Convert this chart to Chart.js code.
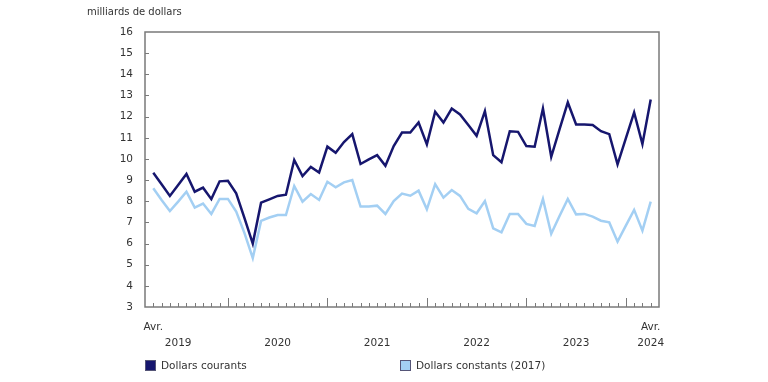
<!DOCTYPE html>
<html><head><meta charset="utf-8">
<script src="https://cdn.jsdelivr.net/npm/chart.js@4/dist/chart.umd.min.js"></script>
<style>html,body{margin:0;padding:0;background:#fff}#wrap{width:768px;height:382px;position:relative}</style>
</head><body><div id="wrap"><canvas id="c" width="768" height="382"></canvas></div>
<script>
const months = [
 '2019-04','2019-05','2019-06','2019-07','2019-08','2019-09','2019-10','2019-11','2019-12',
 '2020-01','2020-02','2020-03','2020-04','2020-05','2020-06','2020-07','2020-08','2020-09','2020-10','2020-11','2020-12',
 '2021-01','2021-02','2021-03','2021-04','2021-05','2021-06','2021-07','2021-08','2021-09','2021-10','2021-11','2021-12',
 '2022-01','2022-02','2022-03','2022-04','2022-05','2022-06','2022-07','2022-08','2022-09','2022-10','2022-11','2022-12',
 '2023-01','2023-02','2023-03','2023-04','2023-05','2023-06','2023-07','2023-08','2023-09','2023-10','2023-11','2023-12',
 '2024-01','2024-02','2024-03','2024-04'
];
const courants = [
 9.35,8.8,8.25,8.77,9.29,8.45,8.64,8.1,8.94,
 8.97,8.37,7.2,6.0,7.93,8.09,8.25,8.31,9.95,9.19,9.62,9.36,
 10.58,10.29,10.8,11.17,9.76,9.98,10.18,9.68,10.61,11.25,11.25,11.72,
 10.69,12.23,11.72,12.38,12.1,11.6,11.09,12.26,10.18,9.84,11.31,11.28,
 10.61,10.58,12.38,10.1,11.4,12.67,11.63,11.63,11.6,11.31,11.17,9.74,
 10.97,12.2,10.7,12.81
];
const constants = [
 8.61,8.06,7.54,7.98,8.45,7.70,7.89,7.40,8.11,
 8.11,7.51,6.49,5.31,7.07,7.23,7.35,7.35,8.72,7.98,8.34,8.06,
 8.92,8.66,8.89,9.0,7.75,7.75,7.79,7.4,8.01,8.36,8.26,8.5,
 7.62,8.81,8.17,8.53,8.25,7.64,7.43,8.01,6.72,6.53,7.4,7.4,
 6.93,6.83,8.11,6.46,7.3,8.11,7.38,7.4,7.27,7.08,7.0,6.09,
 6.85,7.59,6.61,7.98
];
const xLabelIdx = [0,3,15,27,39,51,60];
const xLabelTop = ['Avr.','','','','','','Avr.'];
const xLabelBottom = ['','2019','2020','2021','2022','2023','2024'];
const seriesNames = ['Dollars courants','Dollars constants (2017)'];
const unitLabel = 'milliards de dollars';
const yMin = 3, yMax = 16;

const FONT = '"DejaVu Sans", Verdana, sans-serif';
const TXT = '#333333';
const AXIS = '#7a7a7a';
const DARK = '#16166e';
const LIGHT = '#a3cff3';

const decor = {
  id: 'decor',
  beforeDatasetsDraw(chart) {
    const {ctx, chartArea: a, scales: {x, y}} = chart;
    ctx.save();
    ctx.strokeStyle = AXIS;
    ctx.lineWidth = 1.5;
    ctx.strokeRect(a.left, a.top, a.right - a.left, a.bottom - a.top);
    ctx.lineWidth = 1;
    ctx.beginPath();
    months.forEach((m, i) => {
      const px = Math.round(x.getPixelForValue(i)) + 0.5;
      const len = m.endsWith('-01') ? 9 : 4;
      ctx.moveTo(px, a.bottom);
      ctx.lineTo(px, a.bottom - len);
    });
    for (let v = yMin + 1; v < yMax; v++) {
      const py = Math.round(y.getPixelForValue(v)) + 0.5;
      ctx.moveTo(a.left, py);
      ctx.lineTo(a.left + 4, py);
    }
    ctx.stroke();
    ctx.restore();
  },
  afterDraw(chart) {
    const {ctx} = chart;
    ctx.save();
    ctx.fillStyle = TXT;
    ctx.textBaseline = 'middle';
    ctx.font = '10px ' + FONT;
    ctx.fillText(unitLabel, 87, 12);
    const legendX = [145, 400];
    chart.data.datasets.forEach((ds, i) => {
      const lx = legendX[i];
      ctx.fillStyle = ds.borderColor;
      ctx.fillRect(lx, 360, 11, 11);
      ctx.strokeStyle = '#555577';
      ctx.lineWidth = 1;
      ctx.strokeRect(lx + 0.5, 360.5, 10, 10);
      ctx.fillStyle = TXT;
      ctx.font = '10.5px ' + FONT;
      ctx.fillText(ds.label, lx + 16, 366);
    });
    ctx.restore();
  }
};

new Chart(document.getElementById('c'), {
  type: 'line',
  data: {
    datasets: [
      {label: seriesNames[0], data: courants.map((v, i) => ({x: i, y: v})), borderColor: DARK, backgroundColor: DARK, borderWidth: 2.5, pointRadius: 0, tension: 0},
      {label: seriesNames[1], data: constants.map((v, i) => ({x: i, y: v})), borderColor: LIGHT, backgroundColor: LIGHT, borderWidth: 2.5, pointRadius: 0, tension: 0}
    ]
  },
  options: {
    responsive: false,
    animation: false,
    layout: {padding: {left: 0, right: 109, top: 32, bottom: 35}},
    plugins: {legend: {display: false}, tooltip: {enabled: false}},
    scales: {
      x: {
        type: 'linear', min: -1, max: 61,
        grid: {display: false, drawTicks: false},
        border: {display: false},
        afterBuildTicks(s) { s.ticks = xLabelIdx.map(v => ({value: v})); },
        afterFit(s) { s.height = 40; },
        ticks: {
          autoSkip: false, maxRotation: 0, minRotation: 0, padding: 12,
          font: {family: FONT, size: 10.5, lineHeight: 1.52}, color: TXT,
          callback(v) { const k = xLabelIdx.indexOf(v); return k < 0 ? '' : [xLabelTop[k], xLabelBottom[k]]; }
        }
      },
      y: {
        min: yMin, max: yMax,
        grid: {display: false, drawTicks: false},
        border: {display: false},
        afterFit(s) { s.width = 145; },
        ticks: {stepSize: 1, padding: 12, font: {family: FONT, size: 10.5}, color: TXT}
      }
    }
  },
  plugins: [decor]
});
</script>
</body></html>
